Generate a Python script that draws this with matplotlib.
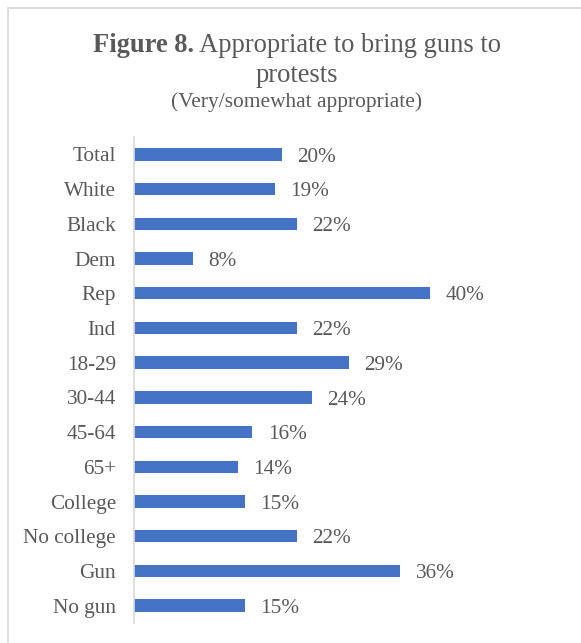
import matplotlib
matplotlib.use("Agg")
import matplotlib.pyplot as plt
from matplotlib.patches import Rectangle

# survey groups and share saying very/somewhat appropriate (%)
groups = ["Total", "White", "Black", "Dem", "Rep", "Ind", "18-29", "30-44",
          "45-64", "65+", "College", "No college", "Gun", "No gun"]
values = [20, 19, 22, 8, 40, 22, 29, 24, 16, 14, 15, 22, 36, 15]

W, H = 581, 643
bar_color = "#4472C4"
text_color = "#595959"
serif = ["Liberation Serif", "DejaVu Serif"]

fig = plt.figure(figsize=(W / 100, H / 100), dpi=100)
fig.patch.set_facecolor("white")

# light frame around the chart area (runs off the right and bottom edges)
fig.patches.append(Rectangle((7.5 / W, -0.05), 1.1, 1.05 - 8.5 / H,
                             transform=fig.transFigure, fill=False,
                             edgecolor="#d9d9d9", linewidth=1.3))

# plot area in pixels
left, right = 134, 504
top, bottom = 137, 623
ax = fig.add_axes([left / W, 1 - bottom / H, (right - left) / W, (bottom - top) / H])

ypos = list(range(len(groups)))
ax.barh(ypos, values, height=0.36, color=bar_color)
ax.set_xlim(0, 50)
ax.set_ylim(len(groups) - 0.5, -0.5)

for y, v in zip(ypos, values):
    ax.text(v + 2.1, y + 0.08, f"{v}%", va="center", ha="left",
            fontsize=15.3, color=text_color, family=serif)

ax.set_yticks(ypos)
ax.set_yticklabels(groups, fontsize=15.3, color=text_color, family=serif)
ax.tick_params(axis="y", length=0, pad=13)
ax.set_xticks([])
for s in ["top", "right", "bottom"]:
    ax.spines[s].set_visible(False)
ax.spines["left"].set_color("#d9d9d9")
ax.spines["left"].set_linewidth(1.2)

# title: bold lead-in followed by regular text
cx = 297 / W
fig.canvas.draw()
r = fig.canvas.get_renderer()
t1 = fig.text(0, 1 - 46 / H, "Figure 8.", fontsize=19.1, fontweight="bold",
              color=text_color, family=serif, va="center", ha="left")
t2 = fig.text(0, 1 - 46 / H, " Appropriate to bring guns to", fontsize=19.1,
              color=text_color, family=serif, va="center", ha="left")
w1 = t1.get_window_extent(r).width
w2 = t2.get_window_extent(r).width
x0 = cx * W - (w1 + w2) / 2
t1.set_x(x0 / W)
t2.set_x((x0 + w1) / W)
fig.text(cx, 1 - 75 / H, "protests", fontsize=19.1, color=text_color,
         family=serif, va="center", ha="center")
fig.text(cx, 1 - 102 / H, "(Very/somewhat appropriate)", fontsize=15.4,
         color=text_color, family=serif, va="center", ha="center")

fig.savefig("out.png", dpi=100)
